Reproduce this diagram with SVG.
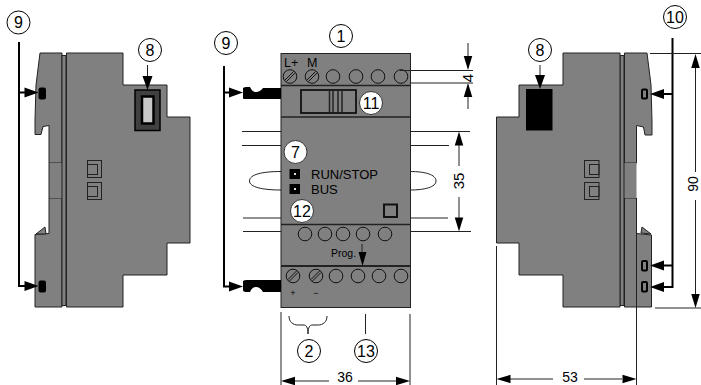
<svg xmlns="http://www.w3.org/2000/svg" width="701" height="385" viewBox="0 0 701 385">
<style>
text{font-family:"Liberation Sans",Arial,sans-serif;fill:#000}
.b{fill:#808080;stroke:#222;stroke-width:1}
.bar{stroke:#222;stroke-width:1.5;fill:none}
.t{stroke:#222;stroke-width:1;fill:none}
.k{stroke:#000;stroke-width:2;fill:none}
.c{fill:#fff;stroke:#000;stroke-width:1}
.cw{fill:#fff;stroke:#333;stroke-width:1}
.n{font-size:16px;text-anchor:middle}
.d{font-size:15px;text-anchor:middle}
.h{fill:#000}
.p{fill:none;stroke:#111;stroke-width:1}
.s{fill:none;stroke:#111;stroke-width:1}
.sq{fill:none;stroke:#222;stroke-width:1}
</style>
<defs>
<path id="ah" class="h" d="M0,0L-14,-5L-14,5Z"/>
<g id="screw"><circle class="p" r="6.8"/><path class="s" d="M-5,3.5L3.5,-5M-3.5,5L5,-3.5"/></g>
<circle id="t" class="p" r="6.8"/>
</defs>

<g id="left-device">
<path class="b" d="M40,53L36,85L35,120L35,134.500L41,134.500L43,126.500L49,125.500V163H62V53Z"/>
<path class="b" d="M62,198H49V233.500L35,234.500V307H62Z"/>
<path class="b" d="M36,234L45,227L46,234Z"/>
<rect x="49" y="163" width="13" height="35" fill="#808080"/>
<path d="M49,163V198" stroke="#222" fill="none"/>
<rect class="b" x="62" y="55.500" width="4" height="250"/>
<path class="b" d="M66.500,53H123V85H167V117H190V243H167V275H123V307H66.500Z"/>
<rect x="135" y="90" width="25" height="40.500" fill="#404040" stroke="#000" stroke-width="1.500"/>
<rect x="142" y="96.500" width="11.500" height="27" fill="#c8c8c8" stroke="#000" stroke-width="2.500"/>
<rect class="sq" x="87.500" y="160.500" width="14" height="17"/><rect class="sq" x="87.500" y="164.500" width="10" height="10"/>
<rect class="sq" x="87.500" y="182.500" width="14" height="17"/><rect class="sq" x="87.500" y="186.500" width="10" height="10"/>
<rect class="h" x="38.500" y="87.500" width="7.500" height="12" rx="2"/>
<rect class="h" x="38.500" y="280.500" width="7.500" height="12" rx="2"/>
</g>

<g id="center-device">
<rect class="b" x="281" y="53.500" width="129.500" height="254" stroke-width="1.500"/>
<path class="bar" d="M281,85.500H410M281,117H410M281,224.500H410"/>
<path d="M281,266H410" stroke="#222" stroke-width="2" fill="none"/>
<text x="284" y="66.500" font-size="12.500">L+</text>
<text x="307" y="66.500" font-size="12.500">M</text>
<use href="#screw" x="290" y="76.500"/><use href="#screw" x="312" y="76.500"/><use href="#t" x="333" y="76.500"/><use href="#t" x="356" y="76.500"/><use href="#t" x="378" y="76.500"/><use href="#t" x="401" y="76.500"/>
<rect x="301" y="90" width="55" height="23" fill="none" stroke="#111" stroke-width="1.800"/>
<path class="bar" d="M329.500,90V113M333,90V113M338,90V113M342,90V113"/>
<rect class="h" x="289.500" y="169" width="10.500" height="10"/><rect x="294" y="173" width="2" height="2" fill="#ddd"/>
<rect class="h" x="289.500" y="184" width="10.500" height="10"/><rect x="294" y="188" width="2" height="2" fill="#ddd"/>
<text x="311" y="178.500" font-size="13">RUN/STOP</text>
<text x="311" y="194" font-size="13">BUS</text>
<rect x="384" y="204.500" width="13" height="12.500" fill="none" stroke="#111" stroke-width="2"/>
<use href="#t" x="305" y="234"/><use href="#t" x="325" y="234"/><use href="#t" x="343" y="234"/><use href="#t" x="363" y="234"/><use href="#t" x="385" y="234"/>
<text x="331" y="257" font-size="10.500">Prog.</text>
<use href="#screw" x="293" y="276"/><use href="#screw" x="316" y="276"/><use href="#t" x="336" y="276"/><use href="#t" x="358" y="276"/><use href="#t" x="379" y="276"/><use href="#t" x="401" y="276"/>
<text x="293" y="296" font-size="9" text-anchor="middle">+</text>
<text x="316" y="296" font-size="9" text-anchor="middle">−</text>
<path class="h" d="M243,88Q244,87 247,87L250,87Q252,92 256,92Q260,92 263,88H281V99H244Q243,99 243,98Z"/>
<path class="h" d="M243,281Q244,280 247,280H281V292H263Q260,287 256,287Q252,287 250,292H247Q243,292 243,290Z"/>
</g>

<g id="right-device">
<path class="b" d="M624.500,53H647L651,85L652,122V135H645L643.500,127L636.500,125.500V163H624.500Z"/>
<path class="b" d="M624.500,198H636.500V233.500L651.500,235V307H624.500Z"/>
<path class="b" d="M641,233L642,227L651,234Z"/>
<rect x="624" y="163" width="12.500" height="35" fill="#808080"/>
<rect class="b" x="620" y="55.500" width="4" height="250"/>
<path class="b" d="M620,53H563V85H519V117H496.500V243H519V275H563V307H620Z"/>
<rect class="h" x="526" y="89" width="26.500" height="41.500"/>
<rect class="sq" x="584.500" y="160.500" width="14.500" height="17"/><rect class="sq" x="589.500" y="164.500" width="9.500" height="10"/>
<rect class="sq" x="584.500" y="182.500" width="14.500" height="17"/><rect class="sq" x="589.500" y="186.500" width="9.500" height="10"/>
<g fill="#808080" stroke="#000" stroke-width="2"><rect x="642" y="89.500" width="5" height="9" rx="1"/><rect x="642" y="261" width="5" height="9.500" rx="1"/><rect x="642" y="282" width="5" height="9.500" rx="1"/></g>
</g>

<g id="connectors">
<path class="k" d="M19,42V286H26M19,92.500H26"/>
<use href="#ah" transform="translate(38.500,92.500)"/><use href="#ah" transform="translate(38.500,286)"/>
<path class="t" d="M147.500,65V80"/><use href="#ah" transform="translate(147.500,90) rotate(90)"/>
<path class="k" d="M224,66V286.500H232M224,92.500H232"/>
<use href="#ah" transform="translate(243,92.500)"/><use href="#ah" transform="translate(243,286.500)"/>
<path class="k" d="M672.500,38V287H660M672.500,94H660M672.500,265.500H660"/>
<use href="#ah" transform="translate(650,94) rotate(180)"/><use href="#ah" transform="translate(650,265.500) rotate(180)"/><use href="#ah" transform="translate(650,287) rotate(180)"/>
<path class="t" d="M540,65V80"/><use href="#ah" transform="translate(540,89) rotate(90)"/>
<path class="t" d="M362,244V255"/><use href="#ah" transform="translate(362.500,266) rotate(90) scale(1,.8)"/>
<path class="t" d="M242,131.500H281M242,145.500H281M243,218H281M243,231.500H281M410,131.500H470M410,145.500H449M410,218H448M410,231.500H471"/>
<path class="t" d="M281,171.500C262,171.500 249.500,174.500 249.500,181C249.500,187 262,190 281,190"/>
<path class="t" d="M410,171.500C425,171.500 436,174.500 436,181C436,187 425,190 410,190"/>
<path class="t" d="M400,70.500H473M410,83H473M468,43V57M468,97V109"/>
<use href="#ah" transform="translate(468,70) rotate(90) scale(1,.85)"/><use href="#ah" transform="translate(468,83) rotate(-90) scale(1,.85)"/>
<path class="t" d="M459,145V166M459,197V218"/>
<use href="#ah" transform="translate(459,131.500) rotate(-90) scale(1,.85)"/><use href="#ah" transform="translate(459,231.500) rotate(90) scale(1,.85)"/>
<path class="t" d="M650,53.500H701M655,308H701M695.500,68V172M695.500,200V294"/>
<use href="#ah" transform="translate(695.500,54) rotate(-90) scale(1,.85)"/><use href="#ah" transform="translate(695.500,308) rotate(90) scale(1,.85)"/>
<path class="t" d="M281,312V385M410,314V385M295,381H329M358,381H396"/>
<use href="#ah" transform="translate(281,381) rotate(180) scale(1,.85)"/><use href="#ah" transform="translate(410,381) scale(1,.85)"/>
<path class="t" d="M496.500,246V385M636.500,198V385M510,379H553M584,379H622"/>
<use href="#ah" transform="translate(496.500,379) rotate(180) scale(1,.85)"/><use href="#ah" transform="translate(636.500,379) scale(1,.85)"/>
<path class="t" d="M289,316C289,322 293,325 298,325H304C306,325 308,327 308,334C308,327 310,325 312,325H318C323,325 327,322 327,316"/>
<path class="t" d="M365.500,314V334"/>
</g>

<g id="dimensions">
<text class="d" transform="translate(468,78) rotate(-90)" y="5">4</text>
<text class="d" transform="translate(459,181) rotate(-90)" y="5">35</text>
<text class="d" style="font-size:14px" transform="translate(693,184) rotate(-90)" y="5">90</text>
<text class="d" style="font-size:14px" x="345" y="382">36</text>
<text class="d" style="font-size:14px" x="570" y="382">53</text>
</g>

<g id="n9a"><circle class="c" cx="18.500" cy="22.500" r="11.500"/><text class="n" x="18.500" y="28">9</text></g>
<g id="n8a"><circle class="c" cx="150" cy="50" r="11.500"/><text class="n" x="150" y="55.500">8</text></g>
<g id="n9b"><circle class="c" cx="226" cy="43" r="11.500"/><text class="n" x="226" y="48.500">9</text></g>
<g id="n1"><circle class="c" cx="341" cy="36" r="11.500"/><text class="n" x="341" y="41.500">1</text></g>
<g id="n11"><circle class="cw" cx="371" cy="103" r="11.500"/><text class="n" x="371" y="108.500">11</text></g>
<g id="n7"><circle class="cw" cx="295.500" cy="152" r="11.500"/><text class="n" x="295.500" y="157.500">7</text></g>
<g id="n12"><circle class="cw" cx="302" cy="211" r="11.500"/><text class="n" x="302" y="216.500">12</text></g>
<g id="n2"><circle class="c" cx="309" cy="351" r="11.500"/><text class="n" x="309" y="356.500">2</text></g>
<g id="n13"><circle class="c" cx="366" cy="351" r="11.500"/><text class="n" x="366" y="356.500">13</text></g>
<g id="n8b"><circle class="c" cx="540" cy="50" r="11.500"/><text class="n" x="540" y="55.500">8</text></g>
<g id="n10"><circle class="c" cx="675" cy="17" r="11.500"/><text class="n" x="675" y="22.500">10</text></g>
</svg>
